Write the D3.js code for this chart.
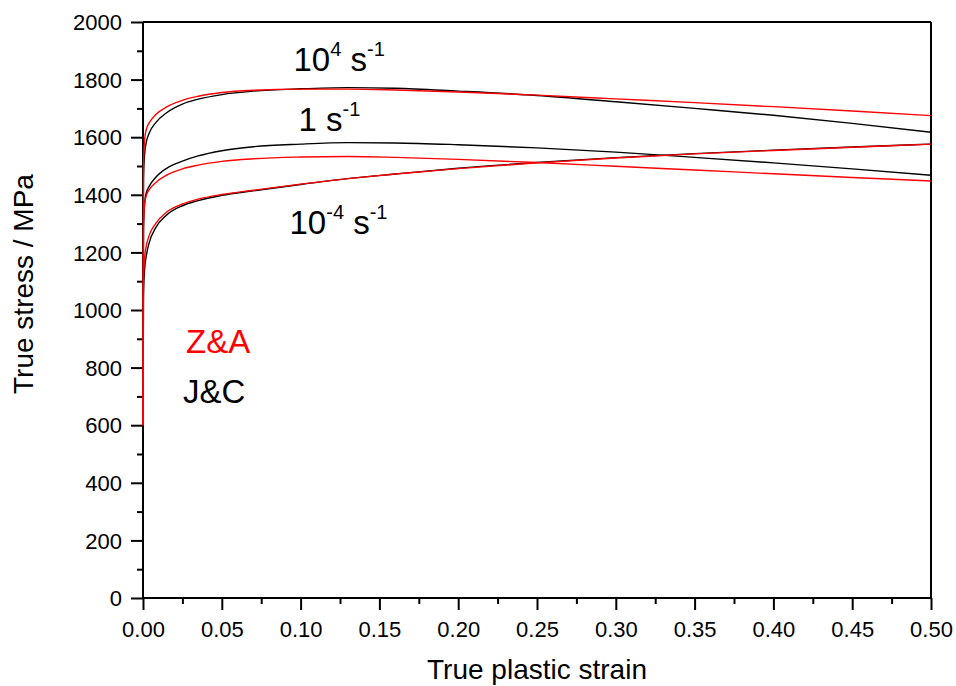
<!DOCTYPE html>
<html>
<head>
<meta charset="utf-8">
<script src="https://cdn.jsdelivr.net/npm/d3@7"></script>
<style>
  html, body { margin: 0; padding: 0; background: #fff; }
  svg { display: block; font-family: "Liberation Sans", Arial, sans-serif; }
  text { white-space: pre; }
</style>
</head>
<body>
<svg id="chart" width="956" height="686"></svg>
<script>
// ---- data ----
const strain = [0, 0.0003, 0.001, 0.002, 0.004, 0.008, 0.015, 0.025, 0.035, 0.05, 0.07, 0.1, 0.13, 0.16, 0.2, 0.25, 0.3, 0.35, 0.4, 0.45, 0.5];

const jcHigh = [600, 1450, 1540, 1580, 1615, 1650, 1685, 1715, 1732, 1748, 1760, 1768, 1772, 1770, 1760, 1745, 1723, 1700, 1676, 1648, 1617];
const zaHigh = [600, 1500, 1590, 1625, 1650, 1678, 1705, 1728, 1742, 1755, 1763, 1767, 1767, 1764, 1757, 1746, 1733, 1720, 1706, 1691, 1675];
const jcMid  = [600, 1280, 1370, 1405, 1430, 1460, 1492, 1517, 1535, 1553, 1567, 1576, 1581, 1580, 1574, 1563, 1548, 1530, 1511, 1490, 1468];
const zaMid  = [600, 1290, 1365, 1395, 1418, 1442, 1468, 1490, 1503, 1516, 1525, 1531, 1533, 1530, 1523, 1512, 1499, 1486, 1473, 1460, 1448];
const jcLow  = [600, 1050, 1140, 1185, 1235, 1285, 1330, 1362, 1380, 1398, 1414, 1436, 1456, 1472, 1492, 1512, 1529, 1543, 1555, 1566, 1576];
const zaLow  = [600, 1100, 1180, 1220, 1260, 1300, 1340, 1368, 1385, 1401, 1416, 1437, 1456, 1472, 1491, 1511, 1528, 1542, 1554, 1565, 1576];

const xTicks = [0, 0.05, 0.1, 0.15, 0.2, 0.25, 0.3, 0.35, 0.4, 0.45, 0.5];
const xMinor = [0.025, 0.075, 0.125, 0.175, 0.225, 0.275, 0.325, 0.375, 0.425, 0.475];
const yTicks = [0, 200, 400, 600, 800, 1000, 1200, 1400, 1600, 1800, 2000];
const yMinor = [100, 300, 500, 700, 900, 1100, 1300, 1500, 1700, 1900];

const seriesNames = ["J&C", "Z&A"];
const rateLabels = [["10", "4"], ["1", null], ["10", "-4"]];

// ---- layout ----
const svg = d3.select("#chart");
const pL = 143, pR = 931, pT = 22, pB = 598;
const x = d3.scaleLinear().domain([0, 0.5]).range([pL, pR]);
const y = d3.scaleLinear().domain([0, 2000]).range([pB, pT]);

svg.append("rect").attr("width", 956).attr("height", 686).attr("fill", "#fff");

// frame (top & right)
svg.append("line").attr("x1", pL).attr("x2", pR).attr("y1", pT).attr("y2", pT)
  .attr("stroke", "#000").attr("stroke-width", 2);
svg.append("line").attr("x1", pR).attr("x2", pR).attr("y1", pT).attr("y2", pB)
  .attr("stroke", "#000").attr("stroke-width", 2);

// axes
const xAxis = d3.axisBottom(x).tickValues(xTicks).tickSize(12).tickPadding(11).tickFormat(d3.format(".2f"));
const xAxisMinor = d3.axisBottom(x).tickValues(xMinor).tickSize(6).tickFormat("");
const yAxis = d3.axisLeft(y).tickValues(yTicks).tickSize(12).tickPadding(9).tickFormat(d3.format("d"));
const yAxisMinor = d3.axisLeft(y).tickValues(yMinor).tickSize(6).tickFormat("");

function styleAxis(g) {
  g.select(".domain").attr("stroke", "#000").attr("stroke-width", 2);
  g.selectAll(".tick line").attr("stroke", "#000").attr("stroke-width", 2);
  g.selectAll(".tick text").attr("fill", "#000").style("font-size", "22px")
    .style("font-family", '"Liberation Sans", Arial, sans-serif');
}

const gxm = svg.append("g").attr("transform", `translate(0,${pB})`).call(xAxisMinor);
gxm.select(".domain").remove();
gxm.selectAll(".tick line").attr("stroke", "#000").attr("stroke-width", 2);
const gym = svg.append("g").attr("transform", `translate(${pL},0)`).call(yAxisMinor);
gym.select(".domain").remove();
gym.selectAll(".tick line").attr("stroke", "#000").attr("stroke-width", 2);

const gx = svg.append("g").attr("transform", `translate(0,${pB})`).call(xAxis);
styleAxis(gx);
gx.select(".domain").attr("d", `M${pL},0H${pR}`);
const gy = svg.append("g").attr("transform", `translate(${pL},0)`).call(yAxis);
styleAxis(gy);
gy.select(".domain").attr("d", `M0,${pB}V${pT}`);
gy.selectAll(".tick text").attr("dy", "0.35em");

// axis titles
svg.append("text").attr("x", (pL + pR) / 2).attr("y", 679).attr("text-anchor", "middle")
  .style("font-size", "28px").attr("fill", "#000").text("True plastic strain");
svg.append("text").attr("transform", "translate(33,284) rotate(-90)").attr("text-anchor", "middle")
  .style("font-size", "28px").attr("fill", "#000").text("True stress / MPa");

// curves
const line = d3.line().x(d => x(d[0])).y(d => y(d[1])).curve(d3.curveMonotoneX);
const blackSeries = [jcHigh, jcMid, jcLow];
const redSeries = [zaHigh, zaMid, zaLow];
blackSeries.forEach(s => {
  svg.append("path").datum(strain.map((e, i) => [e, s[i]])).attr("d", line)
    .attr("fill", "none").attr("stroke", "#000").attr("stroke-width", 1.4);
});
redSeries.forEach(s => {
  svg.append("path").datum(strain.map((e, i) => [e, s[i]])).attr("d", line)
    .attr("fill", "none").attr("stroke", "#ff0000").attr("stroke-width", 1.4);
});

// rate annotations
const annPos = [[293.5, 71], [298.5, 131], [289.5, 234]];
rateLabels.forEach((lab, i) => {
  const t = svg.append("text").attr("x", annPos[i][0]).attr("y", annPos[i][1])
    .attr("fill", "#000").style("font-size", "33px");
  t.append("tspan").text(lab[0]);
  if (lab[1]) {
    t.append("tspan").attr("dy", -15).style("font-size", "20px").text(lab[1]);
    t.append("tspan").attr("dy", 15).style("font-size", "33px").text(" s");
  } else {
    t.append("tspan").style("font-size", "33px").text(" s");
  }
  t.append("tspan").attr("dy", -15).style("font-size", "20px").text("-1");
});

// legend labels
svg.append("text").attr("x", 186).attr("y", 353).attr("fill", "#ff0000").style("font-size", "33px").text(seriesNames[1]);
svg.append("text").attr("x", 183).attr("y", 403).attr("fill", "#000").style("font-size", "33px").text(seriesNames[0]);
</script>
</body>
</html>
